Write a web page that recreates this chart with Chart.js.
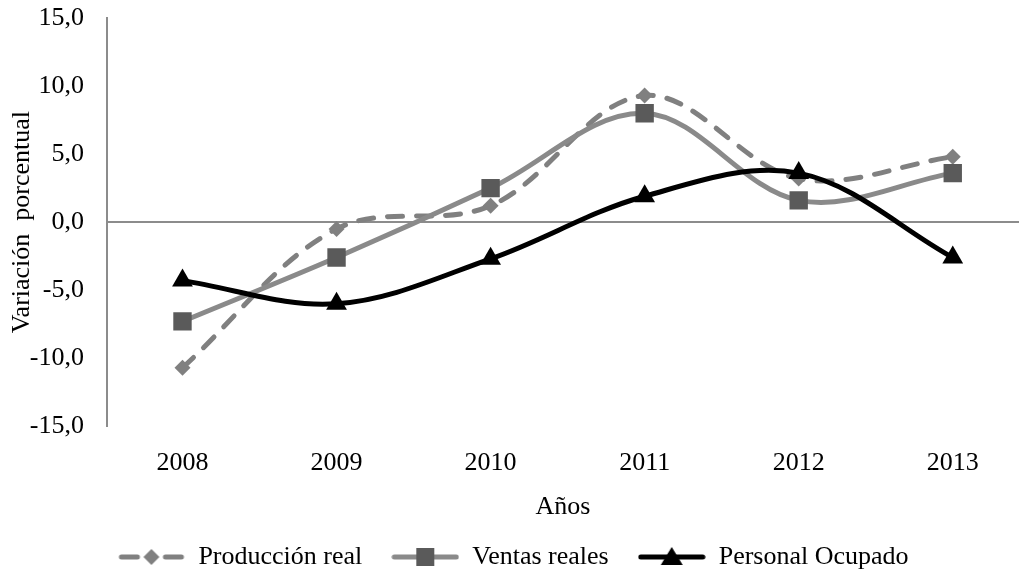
<!doctype html>
<html>
<head>
<title>Variación porcentual</title>
	<script src="https://cdn.jsdelivr.net/npm/chart.js@4/dist/chart.umd.min.js"></script>
	<style>
		html, body { margin: 0; padding: 0; background: #fff; }
		#wrap { width: 1019px; height: 580px; }
	</style>
</head>

<body>
	<div id="wrap">
		<canvas id="canvas"></canvas>
	</div>
	<script>
		var years = [2008, 2009, 2010, 2011, 2012, 2013];
		var produccion = [-10.7, -0.5, 1.2, 9.3, 3.2, 4.8];
		var ventas = [-7.3, -2.6, 2.5, 8.0, 1.6, 3.6];
		var personal = [-4.3, -6.0, -2.7, 1.9, 3.6, -2.6];
		var yTicks = [-15, -10, -5, 0, 5, 10, 15];

		var FONT = "'Liberation Serif', 'Times New Roman', serif";

		function points(values) {
			return values.map(function(v, i) {
				return {x: years[i], y: v};
			});
		}

		// legend sample: line + marker, like the spreadsheet legend
		function legendIcon(color, dash, marker, markerColor) {
			var c = document.createElement('canvas');
			c.width = 68;
			c.height = 24;
			var g = c.getContext('2d');
			g.strokeStyle = color;
			g.lineWidth = 5;
			g.lineCap = 'round';
			g.beginPath();
			if (dash) {
				g.moveTo(4, 12); g.lineTo(20, 12);
				g.moveTo(48, 12); g.lineTo(64, 12);
			} else {
				g.moveTo(3, 12); g.lineTo(65, 12);
			}
			g.stroke();
			g.fillStyle = markerColor;
			g.beginPath();
			if (marker === 'diamond') {
				g.moveTo(34, 4); g.lineTo(42, 12); g.lineTo(34, 20); g.lineTo(26, 12);
			} else if (marker === 'square') {
				g.rect(25, 3, 18, 18);
			} else {
				g.moveTo(34, 2); g.lineTo(45, 20); g.lineTo(23, 20);
			}
			g.closePath();
			g.fill();
			return c;
		}

		var icons = [
			legendIcon('#808080', true, 'diamond', '#808080'),
			legendIcon('#8a8a8a', false, 'square', '#5a5a5a'),
			legendIcon('#000000', false, 'triangle', '#000000')
		];

		var config = {
			type: 'line',
			data: {
				datasets: [{
					label: 'Producción real',
					data: points(produccion),
					borderColor: '#808080',
					backgroundColor: '#808080',
					borderWidth: 5,
					borderDash: [15, 14],
					borderCapStyle: 'round',
					pointStyle: 'rectRot',
					pointRadius: 8,
					pointBorderWidth: 0,
					tension: 0.35,
					fill: false,
					order: 3
				}, {
					label: 'Ventas reales',
					data: points(ventas),
					borderColor: '#8a8a8a',
					backgroundColor: '#5a5a5a',
					borderWidth: 5,
					pointStyle: 'rect',
					pointRadius: 13,
					pointBorderWidth: 0,
					tension: 0.35,
					fill: false,
					order: 2
				}, {
					label: 'Personal Ocupado',
					data: points(personal),
					borderColor: '#000000',
					backgroundColor: '#000000',
					borderWidth: 5,
					pointStyle: 'triangle',
					pointRadius: 12,
					pointBorderWidth: 0,
					tension: 0.35,
					fill: false,
					order: 1
				}]
			},
			options: {
				responsive: true,
				maintainAspectRatio: false,
				animation: false,
				layout: {
					autoPadding: false,
					padding: {top: 18, right: 0, left: 7, bottom: 0}
				},
				plugins: {
					tooltip: {enabled: false},
					legend: {
						position: 'bottom',
						labels: {
							usePointStyle: true,
							pointStyleWidth: 68,
							padding: 29,
							color: '#000',
							font: {family: FONT, size: 26},
							generateLabels: function(chart) {
								return chart.data.datasets.map(function(ds, i) {
									return {
										text: ds.label,
										pointStyle: icons[i],
										fontColor: '#000',
										datasetIndex: i,
										lineWidth: 0
									};
								});
							}
						}
					}
				},
				scales: {
					x: {
						type: 'linear',
						min: 2007.51,
						max: 2013.43,
						afterBuildTicks: function(scale) {
							scale.ticks = years.map(function(y) { return {value: y}; });
						},
						grid: {display: false, drawTicks: false},
						border: {display: false},
						ticks: {
							padding: 21,
							color: '#000',
							font: {family: FONT, size: 26},
							callback: function(v) { return String(v); }
						},
						title: {
							display: true,
							text: 'Años',
							color: '#000',
							font: {family: FONT, size: 26, lineHeight: 0.6},
							padding: {top: 0, bottom: 0}
						}
					},
					y: {
						min: -15,
						max: 15,
						afterBuildTicks: function(scale) {
							scale.ticks = yTicks.map(function(v) { return {value: v}; });
						},
						afterFit: function(scale) {
							scale.width = 100;
						},
						grid: {
							drawTicks: true,
							tickLength: 23,
							tickColor: 'rgba(0,0,0,0)',
							lineWidth: 2,
							color: function(ctx) {
								return ctx.tick && ctx.tick.value === 0 ? '#8c8c8c' : 'rgba(0,0,0,0)';
							}
						},
						border: {display: true, color: '#8c8c8c', width: 2},
						ticks: {
							padding: 0,
							color: '#000',
							font: {family: FONT, size: 26},
							callback: function(v) { return v.toFixed(1).replace('.', ','); }
						},
						title: {
							display: true,
							text: 'Variación  porcentual',
							color: '#000',
							font: {family: FONT, size: 26},
							padding: {top: 0, bottom: 0}
						}
					}
				}
			}
		};

		window.onload = function() {
			var ctx = document.getElementById('canvas').getContext('2d');
			window.myLine = new Chart(ctx, config);
		};
	</script>
</body>

</html>
